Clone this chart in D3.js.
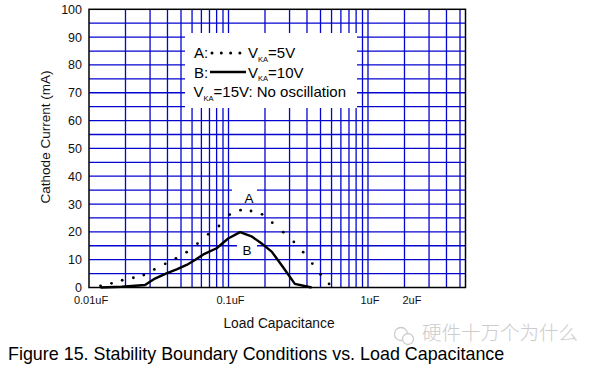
<!DOCTYPE html>
<html>
<head>
<meta charset="utf-8">
<script src="https://cdn.jsdelivr.net/npm/d3@7/dist/d3.min.js"></script>
<style>
  html, body { margin: 0; padding: 0; background: #fff; }
  svg { display: block; font-family: "Liberation Sans", Arial, sans-serif; }
</style>
</head>
<body>
<svg id="chart" width="610" height="371"></svg>
<script>
// ---------- data ----------
const yTickValues = [0, 10, 20, 30, 40, 50, 60, 70, 80, 90, 100];
const yGridValues = [5, 10, 15, 20, 25, 30, 35, 40, 45, 50, 55, 60, 65, 70, 75, 80, 85, 90, 95];
const xTickValues = [0.01, 0.1, 1, 2];
const xTickLabels = ["0.01uF", "0.1uF", "1uF", "2uF"];
const xMajorGrid = [0.1, 1];
const xMinorGrid = [0.02, 0.03, 0.04, 0.05, 0.06, 0.07, 0.08, 0.09, 0.1,
                    0.2, 0.3, 0.4, 0.5, 0.6, 0.7, 0.8, 0.9, 1, 2, 3, 4, 5];

// Curve A (VKA = 5V), dotted
const seriesA_cap = [0.0121, 0.0145, 0.0173, 0.0208, 0.0247, 0.0294, 0.0352, 0.0420, 0.0501,
                     0.0599, 0.0715, 0.0854, 0.102, 0.122, 0.145, 0.174, 0.206, 0.247,
                     0.294, 0.343, 0.399, 0.457, 0.526];
const seriesA_mA  = [0.6, 1.5, 2.6, 3.5, 4.5, 6.5, 8.5, 10.5, 12.7,
                     15.8, 19.1, 22.1, 26.2, 27.8, 27.5, 26.3, 23.3, 19.9,
                     16.4, 12.7, 8.6, 4.7, 1.3];
// Curve B (VKA = 10V), solid
const seriesB_cap = [0.0121, 0.0172, 0.0252, 0.0297, 0.0359, 0.0425, 0.0501, 0.0575, 0.0661,
                     0.0822, 0.0995, 0.121, 0.146, 0.175, 0.204, 0.247, 0.299, 0.394];
const seriesB_mA  = [0, 0.25, 0.9, 3.2, 5.1, 6.5, 8.1, 9.9, 11.9,
                     14.1, 17.6, 19.9, 18.4, 15.6, 12.9, 7.2, 1.3, 0];

const title = "Figure 15. Stability Boundary Conditions vs. Load Capacitance";
const xTitle = "Load Capacitance";
const yTitle = "Cathode Current (mA)";
const watermark = "硬件十万个为什么";

// ---------- layout ----------
const L = 89, R = 465.5, T = 9.3, B = 287.5;
const gridShift = -5.5;
const gridColor = "#0505d0";

const svg = d3.select("#chart");
const x = d3.scaleLog().domain([0.01, 5]).range([L, R]);
const y = d3.scaleLinear().domain([0, 100]).range([B, T]);

// grid
const g = svg.append("g");
g.selectAll("line.hg").data(yGridValues).join("line")
  .attr("x1", L).attr("x2", R)
  .attr("y1", d => y(d)).attr("y2", d => y(d))
  .attr("stroke", gridColor).attr("stroke-width", 1.3);
g.selectAll("line.vmin").data(xMinorGrid).join("line")
  .attr("x1", d => x(d) + gridShift).attr("x2", d => x(d) + gridShift)
  .attr("y1", T).attr("y2", B)
  .attr("stroke", gridColor).attr("stroke-width", 1.3);
g.selectAll("line.vmaj").data(xMajorGrid).join("line")
  .attr("x1", d => x(d)).attr("x2", d => x(d))
  .attr("y1", T).attr("y2", B)
  .attr("stroke", gridColor).attr("stroke-width", 1.3);

// legend box
svg.append("rect").attr("x", 185).attr("y", 33).attr("width", 172).attr("height", 75).attr("fill", "#fff");
// label boxes A, B
svg.append("rect").attr("x", 232).attr("y", 186).attr("width", 25).attr("height", 17).attr("fill", "#fff");
svg.append("rect").attr("x", 237).attr("y", 241).attr("width", 20).attr("height", 15).attr("fill", "#fff");

// border
svg.append("rect").attr("x", L).attr("y", T).attr("width", R - L).attr("height", B - T)
  .attr("fill", "none").attr("stroke", "#000").attr("stroke-width", 1.5);

// curve B
const lineB = d3.line().x(d => x(d[0])).y(d => y(d[1]));
svg.append("path").datum(d3.zip(seriesB_cap, seriesB_mA))
  .attr("d", lineB).attr("fill", "none").attr("stroke", "#000")
  .attr("stroke-width", 2.4).attr("stroke-linejoin", "round");

// curve A dots
svg.append("g").selectAll("circle").data(d3.zip(seriesA_cap, seriesA_mA)).join("circle")
  .attr("cx", d => x(d[0])).attr("cy", d => y(d[1])).attr("r", 1.4).attr("fill", "#000");

// curve labels
svg.append("text").attr("x", 249).attr("y", 203).attr("text-anchor", "middle")
  .attr("font-size", 13.5).text("A");
svg.append("text").attr("x", 247).attr("y", 255).attr("text-anchor", "middle")
  .attr("font-size", 13.5).text("B");

// y ticks
svg.append("g").selectAll("text").data(yTickValues).join("text")
  .attr("x", 82).attr("y", d => y(d)).attr("dy", "0.36em")
  .attr("text-anchor", "end").attr("font-size", 12.5).attr("fill", "#111")
  .text(d => d);

// x ticks
svg.append("g").selectAll("text").data(xTickValues).join("text")
  .attr("x", d => x(d) + 2).attr("y", 304)
  .attr("text-anchor", "middle").attr("font-size", 11).attr("fill", "#111")
  .text((d, i) => xTickLabels[i]);

// axis titles
svg.append("text").attr("x", 279).attr("y", 328).attr("text-anchor", "middle")
  .attr("font-size", 13.8).attr("fill", "#111").text(xTitle);
svg.append("text").attr("transform", "translate(49.5,137) rotate(-90)")
  .attr("text-anchor", "middle").attr("font-size", 13.5).attr("fill", "#111").text(yTitle);

// legend content
const lg = svg.append("g").attr("font-size", 15).attr("fill", "#000");
function vka(gx, gy, rest) {
  const t = lg.append("text").attr("x", gx).attr("y", gy);
  t.append("tspan").text("V");
  t.append("tspan").attr("dy", 3.5).attr("font-size", 7.5).text("KA");
  t.append("tspan").attr("dy", -3.5).text(rest);
}
lg.append("text").attr("x", 194).attr("y", 58).text("A:");
lg.append("g").selectAll("circle").data([0, 1, 2, 3]).join("circle")
  .attr("cx", d => 212 + d * 9.3).attr("cy", 53).attr("r", 1.5).attr("fill", "#000");
vka(248, 58, "=5V");
lg.append("text").attr("x", 194).attr("y", 77.5).text("B:");
lg.append("line").attr("x1", 210).attr("x2", 246).attr("y1", 72).attr("y2", 72)
  .attr("stroke", "#000").attr("stroke-width", 2.6);
vka(248, 77.5, "=10V");
vka(193.5, 97, "=15V: No oscillation");

// watermark (drawn beneath the title)
const wm = svg.append("g").attr("opacity", 0.85);
wm.append("circle").attr("cx", 401).attr("cy", 334).attr("r", 6.5).attr("fill", "none").attr("stroke", "#c4c4c4").attr("stroke-width", 1.3);
wm.append("circle").attr("cx", 408).attr("cy", 339).attr("r", 5.5).attr("fill", "#fff").attr("stroke", "#c4c4c4").attr("stroke-width", 1.3);
wm.append("text").attr("x", 422).attr("y", 340).attr("font-size", 19.5)
  .attr("font-family", "'Noto Sans CJK SC', sans-serif").attr("font-weight", 300)
  .attr("fill", "#c4c4c4").text(watermark);

// title
svg.append("text").attr("x", 8).attr("y", 360).attr("font-size", 17.9).attr("fill", "#000").text(title);
</script>
</body>
</html>
